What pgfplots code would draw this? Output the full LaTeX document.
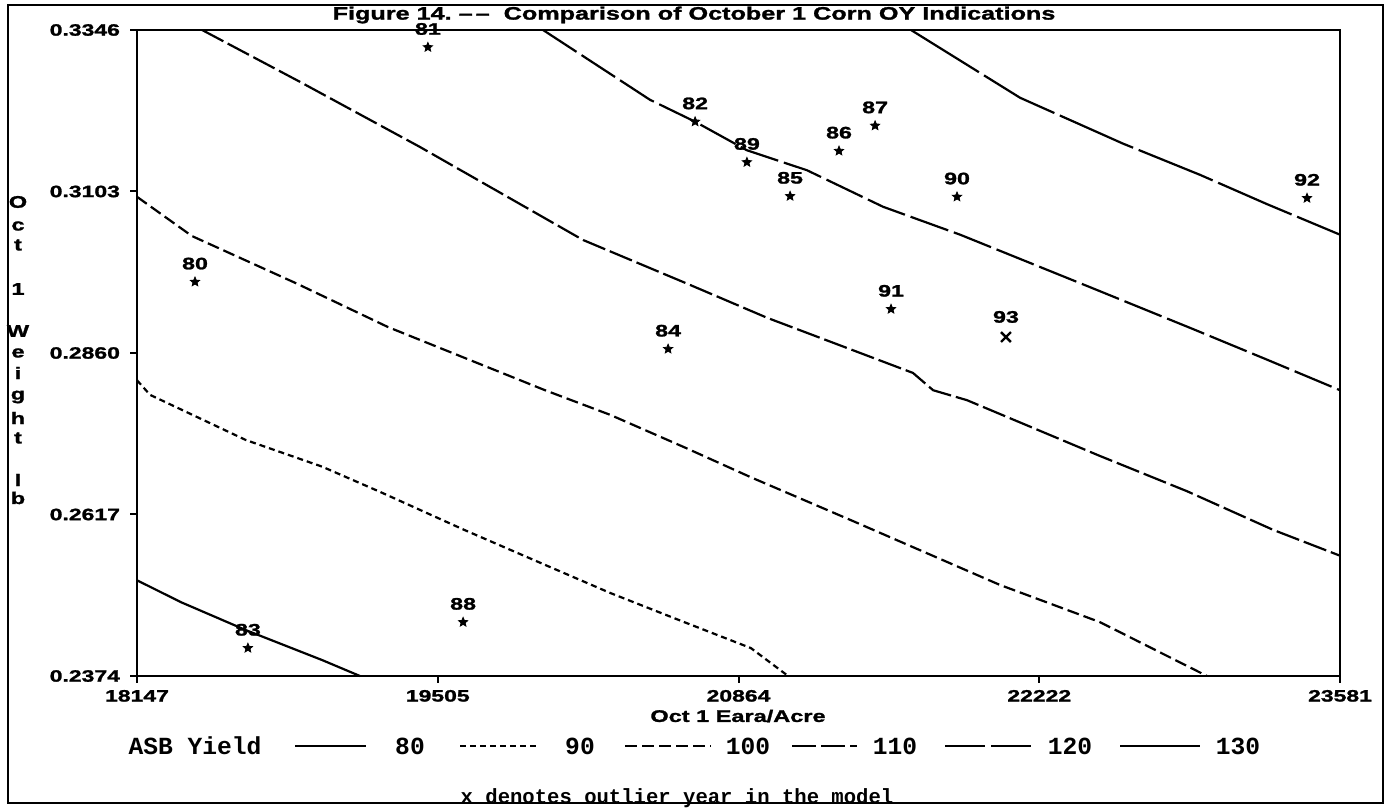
\documentclass[border=0pt]{standalone}
\usepackage{fontspec}
\usepackage{pgfplots}
\pgfplotsset{compat=1.18}
\newfontfamily\wide{Liberation Sans}[UprightFont={* Bold}, FakeStretch=1.4, FakeBold=1.5]
\newfontfamily\mono{Liberation Mono}[UprightFont={* Bold}]

% filled five-pointed star mark
\pgfdeclareplotmark{fstar}{%
  \pgfpathmoveto{\pgfpointpolar{90}{\pgfplotmarksize}}%
  \pgfpathlineto{\pgfpointpolar{126}{0.45\pgfplotmarksize}}%
  \pgfpathlineto{\pgfpointpolar{162}{\pgfplotmarksize}}%
  \pgfpathlineto{\pgfpointpolar{198}{0.45\pgfplotmarksize}}%
  \pgfpathlineto{\pgfpointpolar{234}{\pgfplotmarksize}}%
  \pgfpathlineto{\pgfpointpolar{270}{0.45\pgfplotmarksize}}%
  \pgfpathlineto{\pgfpointpolar{306}{\pgfplotmarksize}}%
  \pgfpathlineto{\pgfpointpolar{342}{0.45\pgfplotmarksize}}%
  \pgfpathlineto{\pgfpointpolar{18}{\pgfplotmarksize}}%
  \pgfpathlineto{\pgfpointpolar{54}{0.45\pgfplotmarksize}}%
  \pgfpathclose\pgfusepathqfillstroke}

% contour lines of ASB yield, read off the reference
\pgfplotstableread{
x y
18147 0.2518
18346 0.2485
18639 0.2443
18983 0.2398
19154 0.2374
}\cEighty
\pgfplotstableread{
x y
18147 0.2819
18206 0.2797
18639 0.2729
18983 0.2689
19245 0.2651
19624 0.2594
19936 0.2549
20284 0.2499
20627 0.2454
20920 0.2416
21088 0.2374
}\cNinety
\pgfplotstableread{
x y
18147 0.3095
18395 0.3036
18865 0.2965
19281 0.2899
19624 0.2853
19990 0.2804
20284 0.2767
20627 0.2717
20920 0.2673
21368 0.2609
22045 0.2511
22497 0.2455
22980 0.2374
}\cHundred
\pgfplotstableread{
x y
18441 0.3346
18883 0.3268
19425 0.3170
20162 0.3030
20627 0.2965
20993 0.2913
21652 0.2830
21743 0.2804
21896 0.2789
22497 0.2705
22890 0.2652
23278 0.2594
23581 0.2555
}\cHundredTen
\pgfplotstableread{
x y
19981 0.3346
20464 0.3241
20668 0.3208
20902 0.3165
21173 0.3135
21517 0.3080
21865 0.3038
22452 0.2959
22917 0.2896
23251 0.2850
23581 0.2804
}\cHundredTwenty
\pgfplotstableread{
x y
21643 0.3346
22136 0.3244
22601 0.3175
22949 0.3128
23251 0.3084
23581 0.3038
}\cHundredThirty
% years
\pgfplotstableread{
x y label
18409 0.2967 80
19461 0.3320 81
20668 0.3208 82
18648 0.2416 83
20546 0.2866 84
21097 0.3096 85
21318 0.3164 86
21481 0.3202 87
19620 0.2455 88
20902 0.3147 89
21851 0.3095 90
21553 0.2926 91
23432 0.3093 92
}\years
\pgfplotstableread{
x y label
22072 0.2884 93
}\outlier

\tikzset{
  d90/.style={dash pattern=on 3pt off 2pt},
  d100/.style={dash pattern=on 6pt off 2.5pt},
  d110/.style={dash pattern=on 12pt off 2.5pt},
  d120/.style={dash pattern=on 20pt off 3pt},
  d130/.style={dash pattern=on 40pt off 3pt},
}

\begin{document}
\begin{tikzpicture}
\useasboundingbox (0,0) rectangle (693pt,404pt);
\begin{axis}[
    at={(68.5pt,66pt)}, anchor=south west,
    scale only axis, width=601.5pt, height=323pt,
    xmin=18147, xmax=23581, ymin=0.2374, ymax=0.3346,
    scaled x ticks=false, scaled y ticks=false,
    axis line style={line width=1.2pt},
    tick style={line width=1pt, black},
    tick align=outside, tick pos=left, major tick length=3.5pt,
    xtick={18147,19505.5,20864,22222.5,23581},
    xticklabels={18147,19505,20864,22222,23581},
    ytick={0.2374,0.2617,0.2860,0.3103,0.3346},
    yticklabels={0.2374,0.2617,0.2860,0.3103,0.3346},
    ticklabel style={font=\wide\fontsize{8.2}{9}\selectfont},
    yticklabel style={xshift=-1.5pt},
    clip=false,
    /pgf/number format/assume math mode=true,
  ]
  \addplot[black, line width=1.1pt, mark=none] table {\cEighty};
  \addplot[black, line width=1.1pt, mark=none, d90] table {\cNinety};
  \addplot[black, line width=1.1pt, mark=none, d100] table {\cHundred};
  \addplot[black, line width=1.1pt, mark=none, d110] table {\cHundredTen};
  \addplot[black, line width=1.1pt, mark=none, d120] table {\cHundredTwenty};
  \addplot[black, line width=1.1pt, mark=none, d130] table {\cHundredThirty};

  \addplot[only marks, mark=fstar, mark size=2.4pt,
    mark options={fill=black, line width=0.4pt},
    nodes near coords, point meta=explicit symbolic,
    every node near coord/.append style={font=\wide\fontsize{8.3}{9}\selectfont,
      anchor=south, inner sep=0pt, yshift=6pt}]
    table[meta=label] {\years};
  \addplot[only marks, mark=x, mark size=3.5pt, mark options={line width=1.2pt},
    nodes near coords, point meta=explicit symbolic,
    every node near coord/.append style={font=\wide\fontsize{8.3}{9}\selectfont,
      anchor=south, inner sep=0pt, yshift=6.5pt}]
    table[meta=label] {\outlier};
\end{axis}

% title and axis labels
\node[font=\wide\fontsize{9}{10}\selectfont] at (347pt,396.5pt)
  {Figure 14.\ \textendash\,\textendash\ \ Comparison of October 1 Corn OY Indications};
\node[font=\wide\fontsize{8.4}{10}\selectfont] at (369pt,46pt) {Oct 1 Eara/Acre};
\begin{scope}[every node/.style={font=\wide\fontsize{8.4}{10}\selectfont, inner sep=0pt}]
  \node at (9pt,303pt) {O};
  \node at (9pt,291pt) {c};
  \node at (9pt,281.5pt) {t};
  \node at (9pt,259.5pt) {1};
  \node at (9pt,238.5pt) {W};
  \node at (9pt,227.5pt) {e};
  \node at (9pt,217.5pt) {i};
  \node at (9pt,205.5pt) {g};
  \node at (9pt,195pt) {h};
  \node at (9pt,185pt) {t};
  \node at (9pt,164pt) {l};
  \node at (9pt,155pt) {b};
\end{scope}

% legend
\begin{scope}[every node/.style={font=\mono\fontsize{12.3}{13}\selectfont, inner sep=0pt}]
  \node at (97.5pt,31pt) {ASB Yield};
  \draw[line width=1.1pt] (147.5pt,31pt) -- (183pt,31pt);
  \node at (205pt,31pt) {80};
  \draw[line width=1.1pt, d90] (230pt,31pt) -- (268pt,31pt);
  \node at (290pt,31pt) {90};
  \draw[line width=1.1pt, d100] (312.5pt,31pt) -- (355.5pt,31pt);
  \node at (374pt,31pt) {100};
  \draw[line width=1.1pt, d110] (396pt,31pt) -- (428.5pt,31pt);
  \node at (447.5pt,31pt) {110};
  \draw[line width=1.1pt, d120] (472.5pt,31pt) -- (516pt,31pt);
  \node at (535pt,31pt) {120};
  \draw[line width=1.1pt, d130] (560pt,31pt) -- (601.5pt,31pt);
  \node at (619pt,31pt) {130};
\end{scope}
\node[font=\mono\fontsize{10.3}{11}\selectfont, anchor=base, inner sep=0pt]
  at (338.5pt,2.2pt) {x denotes outlier year in the model};

% outer frame
\draw[line width=1pt] (4pt,2.5pt) rectangle (691.5pt,401.5pt);
\end{tikzpicture}
\end{document}
